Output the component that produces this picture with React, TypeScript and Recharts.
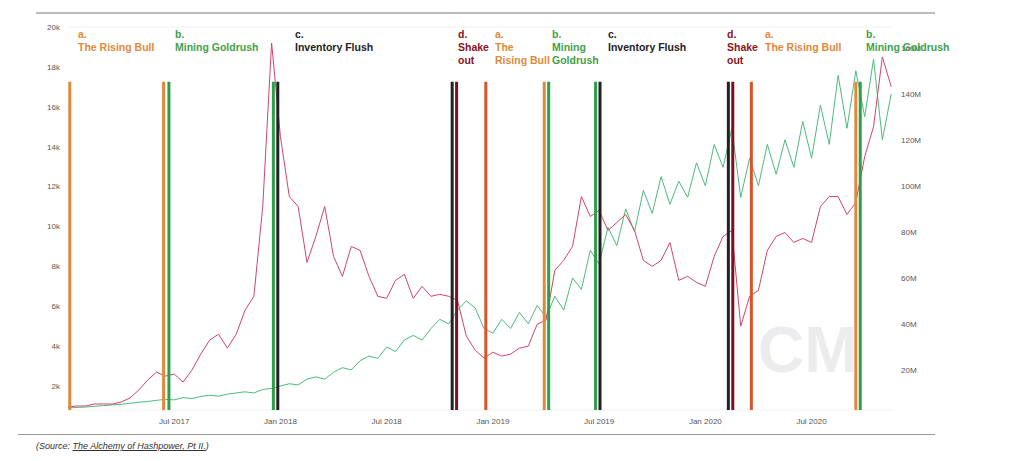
import React from 'react';
import {
  ComposedChart,
  Line,
  XAxis,
  YAxis,
  CartesianGrid,
  ReferenceLine,
} from 'recharts';

// price in k USD, half-month steps from Jan 2017
const priceK = [
  0.95, 1.0, 1.0, 1.1, 1.1, 1.1, 1.2, 1.4, 1.8, 2.3, 2.7, 2.5,
  2.6, 2.2, 2.8, 3.6, 4.3, 4.6, 3.9, 4.6, 5.8, 6.5, 11, 19.2,
  14.5, 11.5, 11.0, 8.2, 9.5, 11.0, 8.5, 7.5, 9.0, 8.8, 7.5, 6.5,
  6.4, 7.3, 7.6, 6.4, 7.0, 6.5, 6.6, 6.5, 6.3, 4.5, 3.8, 3.4,
  3.7, 3.5, 3.6, 3.9, 4.0, 5.1, 5.3, 7.8, 8.3, 9.0, 11.5, 10.5,
  10.8, 9.8, 10.2, 10.6, 9.8, 8.3, 8.0, 8.3, 9.2, 7.3, 7.5, 7.2,
  7.0, 8.5, 9.5, 9.8, 5.0, 6.5, 6.8, 8.8, 9.5, 9.7, 9.2, 9.4,
  9.2, 11.0, 11.5, 11.5, 10.6, 11.2, 13.5, 15.0, 18.5, 17.0,
];

// hashrate in M, same steps
const hashM = [
  3.5, 3.7, 3.9, 4.2, 4.5, 4.8, 5.1, 5.5, 6, 6.3, 6.8, 7.2,
  7, 8, 7.6, 8.5, 9, 8.6, 9.5, 10, 10.5, 10, 11.5, 12,
  13, 14, 13.5, 16, 17, 16, 19, 21, 20, 24, 26, 25,
  30, 28, 33, 35, 33, 38, 42, 40, 46, 50, 47, 38,
  36, 42, 38, 45, 40, 48, 43, 52, 46, 60, 55, 72,
  66, 82, 74, 90, 80, 98, 88, 104, 92, 102, 95, 110,
  100, 118, 108, 125, 95, 112, 100, 118, 105, 120, 108, 128,
  112, 135, 118, 148, 125, 150, 130, 155, 120, 140,
];

const monthTicks = [6, 12, 18, 24, 30, 36, 42];
const monthLabels = ['Jul 2017', 'Jan 2018', 'Jul 2018', 'Jan 2019', 'Jul 2019', 'Jan 2020', 'Jul 2020'];

const phaseLines = [
  { m: 0.1, c: '#e0893a' },
  { m: 5.4, c: '#e0893a' },
  { m: 5.7, c: '#2e9e4a' },
  { m: 11.6, c: '#2e9e4a' },
  { m: 11.85, c: '#222222' },
  { m: 21.7, c: '#222222' },
  { m: 21.95, c: '#7a1020' },
  { m: 23.6, c: '#d9542b' },
  { m: 26.9, c: '#e0893a' },
  { m: 27.15, c: '#2e9e4a' },
  { m: 29.8, c: '#2e9e4a' },
  { m: 30.05, c: '#222222' },
  { m: 37.3, c: '#222222' },
  { m: 37.55, c: '#7a1020' },
  { m: 38.6, c: '#d9542b' },
  { m: 44.5, c: '#e0893a' },
  { m: 44.75, c: '#2e9e4a' },
];

const phaseLabels = [
  { x: 78, lines: ['a.', 'The Rising Bull'], c: '#e0893a' },
  { x: 175, lines: ['b.', 'Mining Goldrush'], c: '#3fa14a' },
  { x: 295, lines: ['c.', 'Inventory Flush'], c: '#222222' },
  { x: 458, lines: ['d.', 'Shake', 'out'], c: '#8a1424' },
  { x: 495, lines: ['a.', 'The', 'Rising Bull'], c: '#e0893a' },
  { x: 552, lines: ['b.', 'Mining', 'Goldrush'], c: '#3fa14a' },
  { x: 608, lines: ['c.', 'Inventory Flush'], c: '#222222' },
  { x: 727, lines: ['d.', 'Shake', 'out'], c: '#8a1424' },
  { x: 765, lines: ['a.', 'The Rising Bull'], c: '#e0893a' },
  { x: 866, lines: ['b.', 'Mining Goldrush'], c: '#3fa14a' },
];

const data = priceK.map((p, i) => ({ m: i * 0.5, price: p * 1000, hash: hashM[i] }));

const tickStyle = { fontSize: 8, fill: '#555', fontFamily: 'Liberation Sans, Arial' };

export default function App() {
  return (
    <div style={{ position: 'relative', width: 1010, height: 445, fontFamily: 'Liberation Sans, Arial' }}>
      <div style={{ position: 'absolute', left: 28, top: 4, width: 899, height: 2, background: '#bdbdbd' }} />
      <ComposedChart
        width={1010}
        height={430}
        data={data}
        margin={{ top: 19, right: 65, bottom: 0, left: 0 }}
      >
        <CartesianGrid horizontal vertical={false} stroke="#f2f2f2" />
        <XAxis
          dataKey="m"
          type="number"
          domain={[0, 46.6]}
          ticks={monthTicks}
          tickFormatter={(v) => monthLabels[monthTicks.indexOf(v)]}
          tick={tickStyle}
          tickLine={false}
          axisLine={false}
          height={28}
        />
        <YAxis
          yAxisId="l"
          domain={[800, 20000]}
          ticks={[2000, 4000, 6000, 8000, 10000, 12000, 14000, 16000, 18000, 20000]}
          tickFormatter={(v) => `${v / 1000}k`}
          tick={tickStyle}
          tickLine={false}
          axisLine={false}
          width={60}
          allowDataOverflow
        />
        <YAxis
          yAxisId="r"
          orientation="right"
          domain={[2.6, 169]}
          ticks={[20, 40, 60, 80, 100, 120, 140, 160]}
          tickFormatter={(v) => `${v}M`}
          tick={tickStyle}
          tickLine={false}
          axisLine={false}
          width={60}
          allowDataOverflow
        />
        <Line yAxisId="r" dataKey="hash" stroke="#4cbb7a" strokeWidth={1} dot={false} isAnimationActive={false} />
        <Line yAxisId="l" dataKey="price" stroke="#d1456a" strokeWidth={1} dot={false} isAnimationActive={false} />
        {phaseLines.map((p, i) => (
          <ReferenceLine
            key={i}
            yAxisId="l"
            segment={[{ x: p.m, y: 800 }, { x: p.m, y: 17250 }]}
            stroke={p.c}
            strokeWidth={3}
          />
        ))}
      </ComposedChart>
      {phaseLabels.map((l, i) => (
        <div
          key={i}
          style={{ position: 'absolute', left: l.x - 8, top: 20, color: l.c, fontSize: 10.5, fontWeight: 'bold', lineHeight: '13px' }}
        >
          {l.lines.map((t, j) => (
            <div key={j}>{t}</div>
          ))}
        </div>
      ))}
      <div style={{ position: 'absolute', left: 750, top: 305, fontSize: 64, color: 'rgba(200,200,210,0.35)', fontWeight: 'bold' }}>CM</div>
      <div style={{ position: 'absolute', left: 10, top: 426, width: 917, height: 1, background: '#999' }} />
      <div style={{ position: 'absolute', left: 28, top: 433, fontSize: 9, lineHeight: '11px', fontStyle: 'italic', color: '#333' }}>
        (Source: <span style={{ textDecoration: 'underline' }}>The Alchemy of Hashpower, Pt II.</span>)
      </div>
    </div>
  );
}
